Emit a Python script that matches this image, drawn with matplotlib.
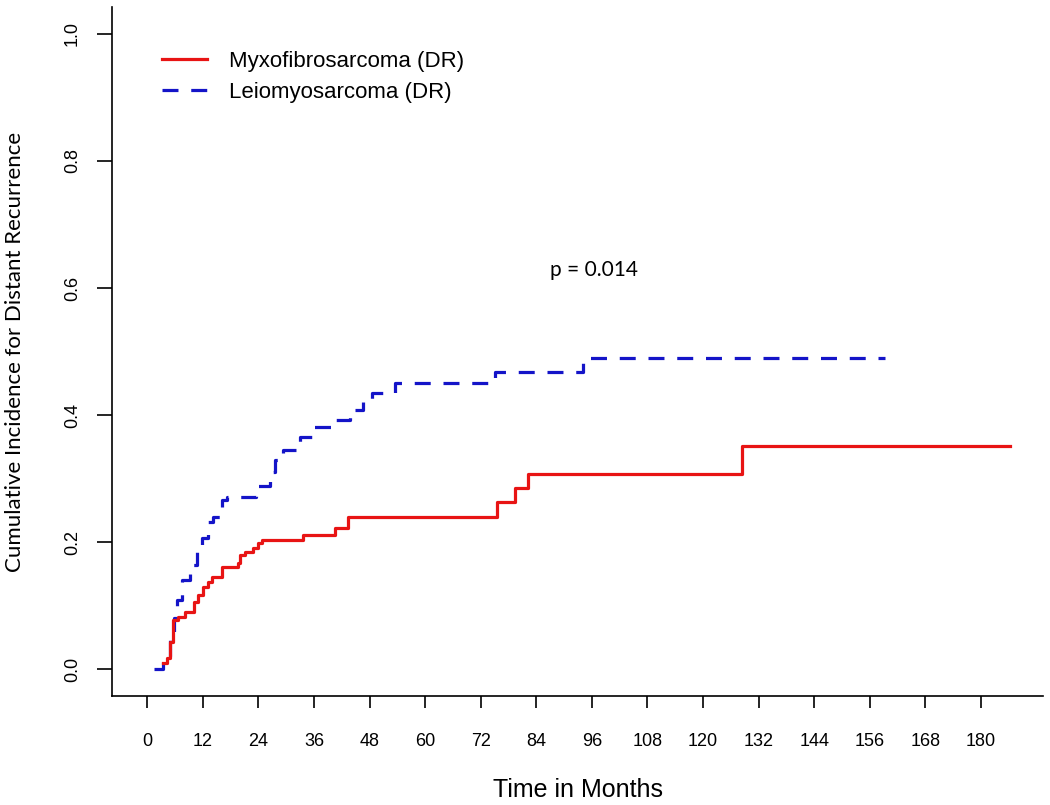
import matplotlib
matplotlib.use("Agg")
import matplotlib.pyplot as plt
import numpy as np

# step data (months, cumulative incidence)
myxo_t = [3.5, 4.2, 5.0, 5.6, 6.7, 8.2, 10.0, 11.0, 12.1, 13.2, 14.0, 16.2, 19.6,
          20.0, 21.2, 22.9, 24.0, 24.8, 33.7, 40.6, 43.4, 75.5, 79.4, 82.3, 128.5, 186.3]
myxo_ci = [0.01, 0.018, 0.043, 0.077, 0.082, 0.090, 0.105, 0.117, 0.129, 0.137, 0.145, 0.161, 0.167,
           0.180, 0.185, 0.190, 0.198, 0.203, 0.211, 0.222, 0.240, 0.263, 0.285, 0.307, 0.351, 0.351]

leio_t = [1.4, 3.5, 5.0, 5.7, 6.4, 7.5, 9.3, 10.8, 11.9, 13.2, 14.2, 16.2, 17.2, 23.5,
          26.5, 27.6, 29.3, 33.0, 35.6, 40.8, 43.8, 46.6, 48.5, 53.5, 75.1, 94.1, 159.3]
leio_ci = [0.0, 0.019, 0.050, 0.080, 0.109, 0.140, 0.164, 0.184, 0.206, 0.232, 0.240, 0.266, 0.271, 0.288,
           0.310, 0.329, 0.345, 0.365, 0.381, 0.392, 0.408, 0.424, 0.435, 0.450, 0.468, 0.490, 0.490]

x_ticks = np.arange(0, 181, 12)
y_ticks = [0.0, 0.2, 0.4, 0.6, 0.8, 1.0]

fig = plt.figure(figsize=(10.5, 8.05), dpi=100)
ax = fig.add_axes([0.1067, 0.1354, 0.8866, 0.8559])

ax.step(leio_t, leio_ci, where='post', color='#1414c8', lw=2.3,
        dashes=(5, 4), label='Leiomyosarcoma (DR)')
ax.step(myxo_t, myxo_ci, where='post', color='#e81414', lw=2.3,
        label='Myxofibrosarcoma (DR)')

ax.set_xlim(-7.6, 193.4)
ax.set_ylim(-0.0425, 1.0425)

for s in ['top', 'right']:
    ax.spines[s].set_visible(False)
for s in ['left', 'bottom']:
    ax.spines[s].set_linewidth(1.2)

ax.set_xticks(x_ticks)
ax.set_xticklabels([str(v) for v in x_ticks], fontsize=13, family='Liberation Sans')
ax.set_yticks(y_ticks)
ax.set_yticklabels(['%.1f' % v for v in y_ticks], fontsize=13, family='Liberation Sans',
                   rotation=90, va='center')
ax.tick_params(axis='x', length=8.5, width=1.2, pad=18)
ax.tick_params(axis='y', length=10.5, width=1.2, pad=12)

ax.set_xlabel('Time in Months', fontsize=18, family='Liberation Sans', labelpad=20)
ax.set_ylabel('Cumulative Incidence for Distant Recurrence', fontsize=16, family='Lato')
ax.yaxis.set_label_coords(-0.093, 0.5)

ax.text(96.5, 0.628, 'p = 0.014', fontsize=15, family='Lato', ha='center', va='center')

h, l = ax.get_legend_handles_labels()
ax.legend(h[::-1], l[::-1], loc='upper left', bbox_to_anchor=(0.054, 0.936),
          frameon=False, prop={'family': 'Liberation Sans', 'size': 16},
          handlelength=2.0, handletextpad=1.0, labelspacing=0.45, borderpad=0, borderaxespad=0)

fig.savefig('out.png', dpi=100)
